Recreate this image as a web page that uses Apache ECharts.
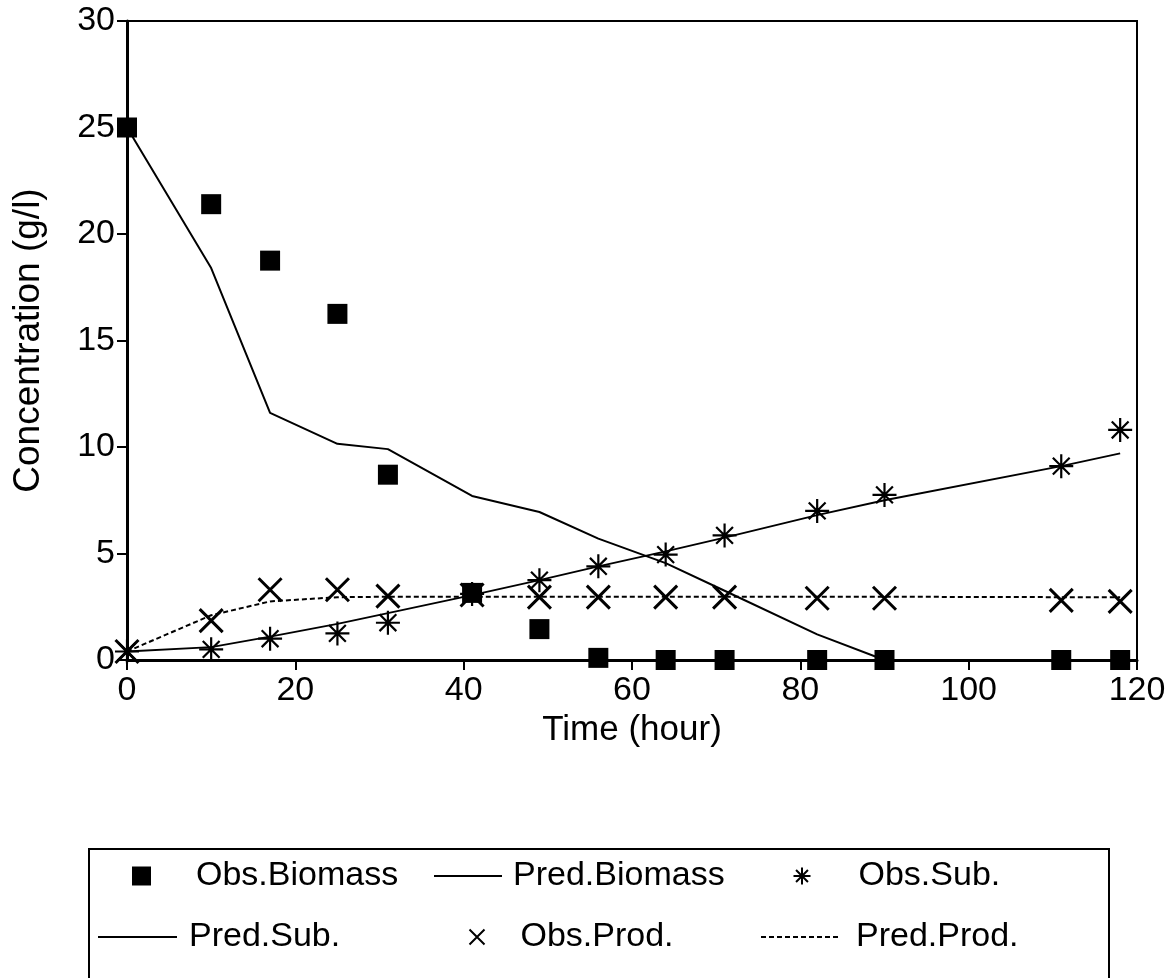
<!DOCTYPE html>
<html>
<head>
<meta charset="utf-8">
<script src="https://cdn.jsdelivr.net/npm/echarts@6/dist/echarts.min.js"></script>
<style>
    html, body { margin: 0; padding: 0; background: #fff; }
    #chart { width: 1176px; height: 978px; }
</style>
</head>
<body>
<div id="chart"></div>
<script>
// sampling times (hour)
var times = [0, 10, 17, 25, 31, 41, 49, 56, 64, 71, 82, 90, 111, 118];
// concentrations (g/l)
var obsBiomass  = [25, 21.4, 18.75, 16.25, 8.7, 3.15, 1.45, 0.1, 0, 0, 0, 0, 0, 0];
var predBiomass = [25, 18.4, 11.6, 10.15, 9.9, 7.7, 6.95, 5.7, 4.55, 3.25, 1.2, 0, 0, 0];
var obsSub      = [0.4, 0.5, 1.0, 1.25, 1.75, 3.1, 3.75, 4.4, 4.95, 5.85, 7.0, 7.75, 9.1, 10.8];
var predSub     = [0.4, 0.6, 1.1, 1.7, 2.2, 3.05, 3.75, 4.4, 5.1, 5.75, 6.8, 7.5, 9.1, 9.7];
var obsProd     = [0.4, 1.85, 3.3, 3.3, 3.0, 3.05, 2.95, 2.95, 2.95, 2.95, 2.9, 2.9, 2.8, 2.75];
var predProd    = [0.4, 2.1, 2.75, 2.95, 2.97, 2.97, 2.97, 2.97, 2.97, 2.97, 2.97, 2.97, 2.95, 2.95];

function pairs(ys) {
    return times.map(function (t, i) { return [t, ys[i]]; });
}

var FONT = '"Liberation Sans", Arial, Helvetica, sans-serif';
var ASTERISK = 'path://M10,0L10,20M0,10L20,10M3,3L17,17M17,3L3,17';
var CROSS = 'path://M0,0L20,20M20,0L0,20';

var chart = echarts.init(document.getElementById('chart'));

// one legend per item so each sits where the original puts it
function legendItem(name, left, top, w, h, gap, isLine) {
    var lg = {
        data: [name],
        left: left, top: top,
        padding: 0,
        itemWidth: w, itemHeight: h,
        textStyle: { fontFamily: FONT, fontSize: 34, color: '#000', padding: [0, 0, 0, gap], lineHeight: 40 }
    };
    if (isLine) {
        // hide the little dot echarts puts on line icons
        lg.itemStyle = { color: 'rgba(0,0,0,0)', borderWidth: 0, opacity: 0 };
    }
    return lg;
}

var option = {
    backgroundColor: '#fff',
    animation: false,
    textStyle: { fontFamily: FONT },
    grid: {
        left: 127, top: 21, right: 39, bottom: 318,
        show: true, borderColor: '#000', borderWidth: 2
    },
    legend: [
        legendItem('Obs.Biomass', 132, 856, 19, 19, 40),
        legendItem('Pred.Biomass', 433, 856, 68, 10, 6, true),
        legendItem('Obs.Sub.', 791, 856, 17, 17, 43),
        legendItem('Pred.Sub.', 97, 917, 79, 10, 7, true),
        legendItem('Obs.Prod.', 467, 917, 15, 15, 31),
        legendItem('Pred.Prod.', 760, 917, 80, 10, 10, true)
    ],
    graphic: [{
        type: 'rect',
        shape: { x: 89, y: 849, width: 1020, height: 200 },
        style: { fill: 'none', stroke: '#000', lineWidth: 2 }
    }],
    xAxis: {
        type: 'value', min: 0, max: 120, interval: 20,
        name: 'Time (hour)', nameLocation: 'middle', nameGap: 50,
        nameTextStyle: { fontFamily: FONT, fontSize: 35, color: '#000' },
        axisLine: { lineStyle: { color: '#000', width: 3 } },
        axisTick: { length: 10, lineStyle: { color: '#000', width: 2 } },
        axisLabel: { fontFamily: FONT, fontSize: 34, color: '#000', margin: 14 },
        splitLine: { show: false }
    },
    yAxis: {
        type: 'value', min: 0, max: 30, interval: 5,
        name: 'Concentration (g/l)', nameLocation: 'middle', nameGap: 80,
        nameTextStyle: { fontFamily: FONT, fontSize: 37, color: '#000' },
        axisLine: { show: true, lineStyle: { color: '#000', width: 3 } },
        axisTick: { show: true, length: 10, lineStyle: { color: '#000', width: 2 } },
        axisLabel: { fontFamily: FONT, fontSize: 34, color: '#000', margin: 12 },
        splitLine: { show: false }
    },
    series: [
        {
            name: 'Pred.Biomass', type: 'line', data: pairs(predBiomass),
            symbol: 'none', lineStyle: { color: '#000', width: 2 }, itemStyle: { color: '#000' }
        },
        {
            name: 'Pred.Sub.', type: 'line', data: pairs(predSub),
            symbol: 'none', lineStyle: { color: '#000', width: 1.8 }, itemStyle: { color: '#000' }
        },
        {
            name: 'Pred.Prod.', type: 'line', data: pairs(predProd),
            symbol: 'none', lineStyle: { color: '#000', width: 2, type: [5, 3] }, itemStyle: { color: '#000' }
        },
        {
            name: 'Obs.Sub.', type: 'scatter', data: pairs(obsSub),
            symbol: ASTERISK, symbolSize: 24,
            itemStyle: { color: 'none', borderColor: '#000', borderWidth: 2.2, opacity: 1 }
        },
        {
            name: 'Obs.Prod.', type: 'scatter', data: pairs(obsProd),
            symbol: CROSS, symbolSize: 23,
            itemStyle: { color: 'none', borderColor: '#000', borderWidth: 3, opacity: 1 }
        },
        {
            name: 'Obs.Biomass', type: 'scatter', data: pairs(obsBiomass),
            symbol: 'rect', symbolSize: 20, z: 5,
            itemStyle: { color: '#000', opacity: 1 }
        }
    ]
};

chart.setOption(option);
</script>
</body>
</html>
